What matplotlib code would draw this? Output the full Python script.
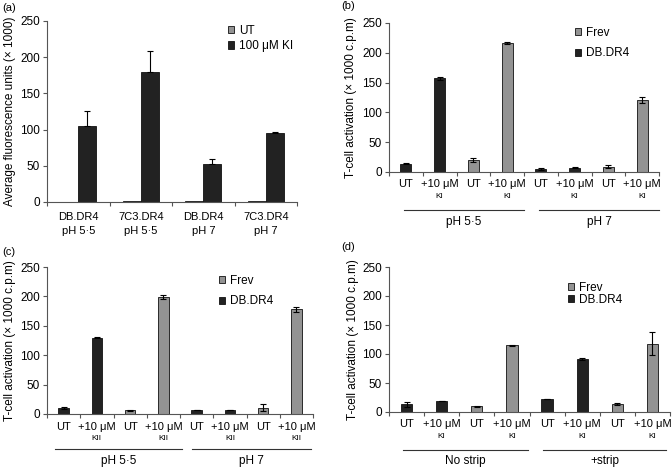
import numpy as np
import matplotlib
matplotlib.use("Agg")
import matplotlib.pyplot as plt
from matplotlib.transforms import blended_transform_factory

plt.rcParams['font.family'] = ['Liberation Sans', 'DejaVu Sans']

# ---- data ------------------------------------------------------------------
# (a) fluorescence
a_names = ["DB.DR4", "7C3.DR4", "DB.DR4", "7C3.DR4"]
a_ph = ["pH 5·5", "pH 5·5", "pH 7", "pH 7"]
a_ut = [0, 2, 1, 1]
a_ki = [105, 180, 52, 95]
a_ki_err = [20, 28, 7, 2]

# (b)-(d) T-cell activation, 8 bars each
cell = ["DB.DR4", "DB.DR4", "Frev", "Frev", "DB.DR4", "DB.DR4", "Frev", "Frev"]
b_vals = [14, 157, 20, 216, 5, 7, 9, 121]
b_err = [1, 2, 4, 2, 1, 1, 2, 5]
c_vals = [10, 130, 6, 199, 7, 7, 11, 178]
c_err = [2, 1, 1, 3, 0.5, 0.5, 6, 4]
d_vals = [13, 19, 10, 115, 23, 91, 14, 118]
d_err = [4, 0, 1, 1, 0, 2, 2, 20]

top_labels = ["UT", "+10 μM", "UT", "+10 μM", "UT", "+10 μM", "UT", "+10 μM"]
b_sub = ["", "KI", "", "KI", "", "KI", "", "KI"]
c_sub = ["", "KII", "", "KII", "", "KII", "", "KII"]
b_groups = ["pH 5·5", "pH 7"]
d_groups = ["No strip", "+strip"]

yticks = [0, 50, 100, 150, 200, 250]

# ---- style -----------------------------------------------------------------
W, H = 672, 467
DARK = "#222222"
GREY = "#939393"
SPINE = "#555555"
FS = 8.5      # ticks, group labels, legends
FX = 8        # category labels
colors = {"DB.DR4": DARK, "Frev": GREY}

fig = plt.figure(figsize=(W / 100, H / 100), dpi=100)


def px_axes(l, t, r, b):
    return fig.add_axes([l / W, 1 - b / H, (r - l) / W, (b - t) / H])


def fy(ypix):
    return 1 - ypix / H


def style_axis(ax, nx, ylabel, ylab_x):
    ax.set_ylim(0, 250)
    ax.set_xlim(0, nx)
    ax.set_yticks(yticks)
    ax.tick_params(axis="y", labelsize=FS, length=3, width=0.8, color=SPINE, pad=2)
    ax.set_xticks(np.arange(nx + 1))
    ax.set_xticklabels([])
    ax.tick_params(axis="x", length=3, width=0.8, color=SPINE)
    for s in ["top", "right"]:
        ax.spines[s].set_visible(False)
    for s in ["left", "bottom"]:
        ax.spines[s].set_color(SPINE)
        ax.spines[s].set_linewidth(0.8)
    pos = ax.get_position()
    fig.text(ylab_x / W, (pos.y0 + pos.y1) / 2, ylabel, rotation=90,
             ha="center", va="center", fontsize=FS)


def square(color):
    return plt.Rectangle((0, 0), 1, 1, facecolor=color, edgecolor="#111111", lw=0.6)


def bar_panel(ax, vals, err, sub, groups, ylab_x, ylines, group_span, legend_pos, lspace):
    x = np.arange(len(vals)) + 0.5
    for i in range(len(vals)):
        ax.bar(x[i], vals[i], width=0.32, color=colors[cell[i]], edgecolor="#111111",
               linewidth=0.6, zorder=2)
    ax.errorbar(x, vals, yerr=err, fmt="none", ecolor="black", elinewidth=0.8,
                capsize=2, capthick=0.8, zorder=3)
    style_axis(ax, len(vals), "T-cell activation (× 1000 c.p.m)", ylab_x)
    tr = blended_transform_factory(ax.transData, fig.transFigure)
    y_top, y_sub, y_line, y_grp = ylines
    for i in range(len(vals)):
        ax.text(x[i], fy(y_top), top_labels[i], transform=tr, ha="center",
                va="center", fontsize=FX)
        if sub[i]:
            ax.text(x[i], fy(y_sub), sub[i], transform=tr, ha="center",
                    va="center", fontsize=6)
    for g, (x0, x1) in zip(groups, group_span):
        ax.plot([x0, x1], [fy(y_line)] * 2, transform=tr, color="#333333",
                lw=0.8, clip_on=False)
        ax.text((x0 + x1) / 2, fy(y_grp), g, transform=tr, ha="center",
                va="center", fontsize=FS)
    ax.legend([square(GREY), square(DARK)], ["Frev", "DB.DR4"], loc="upper left",
              bbox_to_anchor=(legend_pos[0] / W, fy(legend_pos[1])),
              bbox_transform=fig.transFigure, frameon=False, fontsize=FS,
              handlelength=0.55, handleheight=0.55, handletextpad=0.35,
              labelspacing=lspace, borderpad=0, borderaxespad=0)


# ---- (a) -------------------------------------------------------------------
ax_a = px_axes(47, 21, 297, 202)
xa = np.arange(len(a_names)) + 0.5
bw = 0.29
ax_a.bar(xa - bw / 2, a_ut, width=bw, color=GREY, edgecolor="#111111", lw=0.6, zorder=2)
ax_a.bar(xa + bw / 2, a_ki, width=bw, color=DARK, edgecolor="#111111", lw=0.6, zorder=2)
ax_a.errorbar(xa + bw / 2, a_ki, yerr=[np.zeros(len(a_ki)), a_ki_err], fmt="none",
              ecolor="black", elinewidth=0.8, capsize=2, capthick=0.8, zorder=3)
style_axis(ax_a, len(a_names), "Average fluorescence units (× 1000)", 10)
tr_a = blended_transform_factory(ax_a.transData, fig.transFigure)
for i in range(len(a_names)):
    ax_a.text(xa[i], fy(217), a_names[i], transform=tr_a, ha="center",
              va="center", fontsize=FX)
    ax_a.text(xa[i], fy(231), a_ph[i], transform=tr_a, ha="center",
              va="center", fontsize=FX)
ax_a.legend([square(GREY), square(DARK)], ["UT", "100 μM KI"], loc="upper left",
            bbox_to_anchor=(228 / W, fy(25)), bbox_transform=fig.transFigure,
            frameon=False, fontsize=FS, handlelength=0.55, handleheight=0.55,
            handletextpad=0.35, labelspacing=0.27, borderpad=0, borderaxespad=0)
fig.text(2 / W, fy(8), "(a)", fontsize=FX, va="center")

# ---- (b) -------------------------------------------------------------------
ax_b = px_axes(389, 23, 659, 172)
bar_panel(ax_b, b_vals, b_err, b_sub, b_groups, 351, (184, 196, 210, 222),
          [(0.45, 4.0), (4.45, 8.0)], (575, 27), 0.7)
fig.text(341 / W, fy(6), "(b)", fontsize=FX, va="center")

# ---- (c) -------------------------------------------------------------------
ax_c = px_axes(47, 267, 313, 414)
bar_panel(ax_c, c_vals, c_err, c_sub, b_groups, 10, (427, 439, 449, 461),
          [(0.25, 4.05), (4.35, 7.95)], (219, 275), 0.7)
fig.text(2 / W, fy(252), "(c)", fontsize=FX, va="center")

# ---- (d) -------------------------------------------------------------------
ax_d = px_axes(389, 267, 670, 412)
bar_panel(ax_d, d_vals, d_err, b_sub, d_groups, 353, (424, 436, 450, 461),
          [(0.4, 3.96), (4.39, 7.9)], (568, 282), 0.0)
fig.text(341 / W, fy(247), "(d)", fontsize=FX, va="center")

fig.savefig("out.png", dpi=100)
